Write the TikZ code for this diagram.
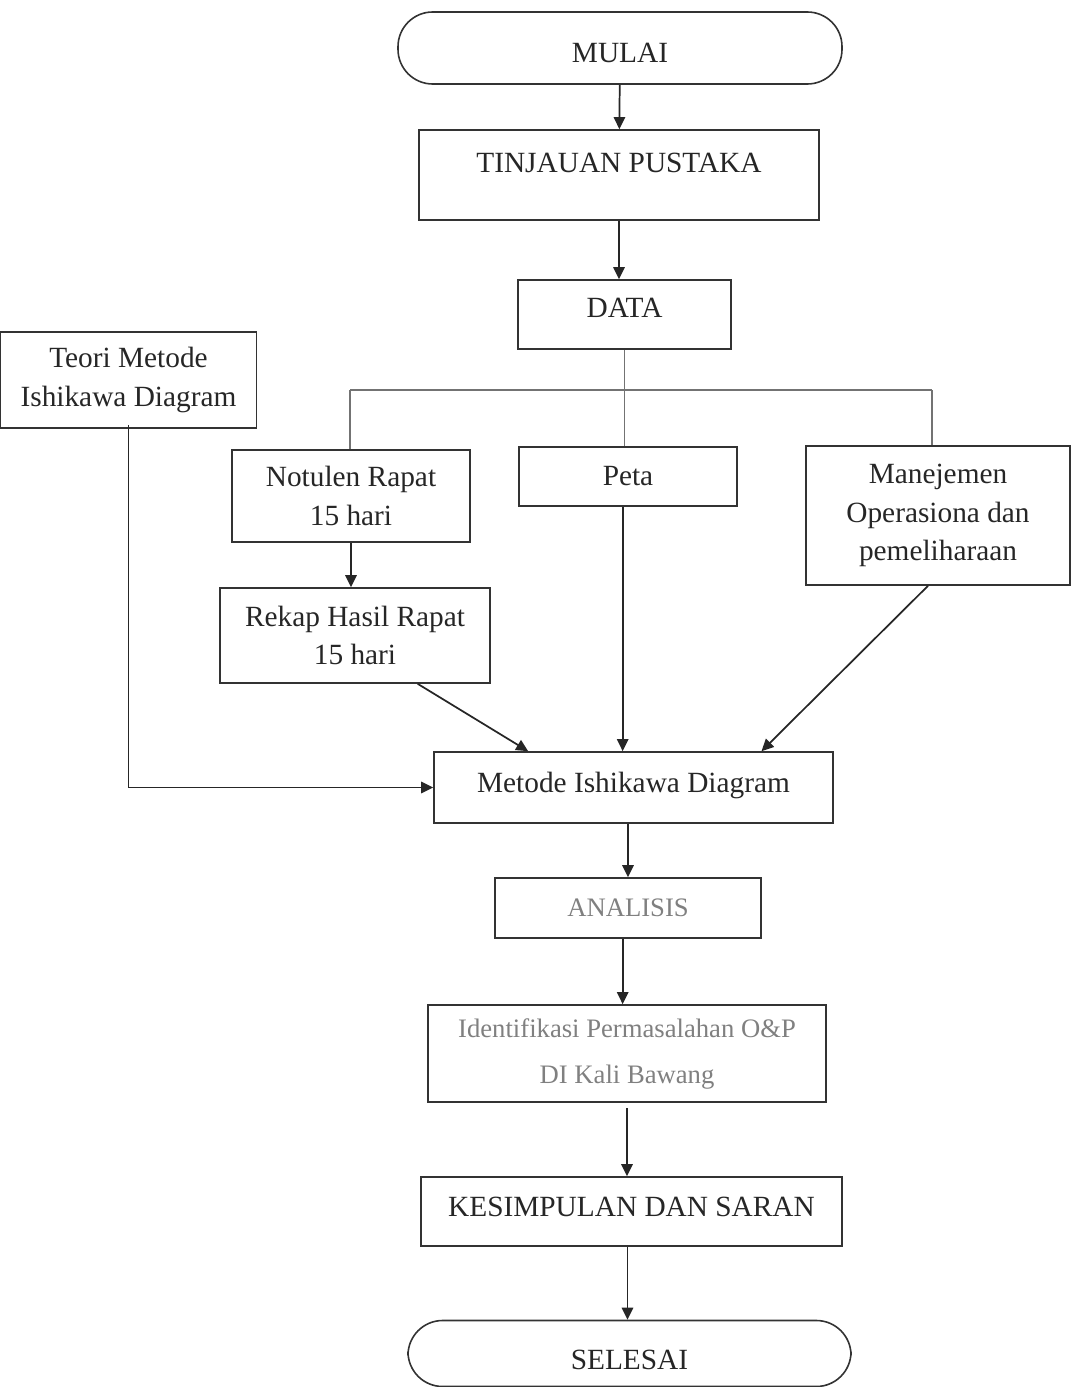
\documentclass[tikz,border=0pt]{standalone}
\usepackage{fontspec}
\setmainfont{Liberation Serif}
\usetikzlibrary{arrows.meta}

\begin{document}
\begin{tikzpicture}[x=0.75pt,y=0.75pt,yscale=-1,xscale=1,
  box/.style={draw=black!80,line width=1.2pt,rectangle,inner sep=0.75pt,align=center,text=black!85,font=\fontsize{22}{29}\selectfont},
  term/.style={box,rounded corners=26pt},
  faded/.style={text=black!50,font=\fontsize{20}{34.5}\selectfont},
  capline/.style={text height=14.6pt,text depth=#1},
  conn/.style={draw=black!85,line width=1.3pt},
  bus/.style={draw=black!55,line width=0.8pt},
  flow/.style={conn,-{Triangle[length=9pt,width=8.5pt]}}]
%uncomment if require: \path (0,1387); %set diagram left start at 0, and has height of 1387
\useasboundingbox (0,0) rectangle (1072,1387);

%Shape: Terminator [id:mulai]
\node [term,minimum width=333pt,minimum height=54pt,text height=21.4pt,text depth=0pt] (mulai) at (620,48) {MULAI};
%Shape: Rectangle [id:tinjauan]
\node [box,minimum width=300pt,minimum height=67.5pt,capline=18.8pt] (tinjauan) at (619,175) {TINJAUAN PUSTAKA};
%Shape: Rectangle [id:data]
\node [box,minimum width=160pt,minimum height=51.75pt,capline=10.5pt] (data) at (624.5,314.5) {DATA};
%Shape: Rectangle [id:teori]
\node [box,minimum width=192pt,minimum height=72pt] (teori) at (128.5,380) {Teori Metode\\Ishikawa Diagram};
%Shape: Rectangle [id:notulen]
\node [box,minimum width=178.5pt,minimum height=69pt] (notulen) at (351,496) {Notulen Rapat\\15 hari};
%Shape: Rectangle [id:rekap]
\node [box,minimum width=202.5pt,minimum height=71.25pt] (rekap) at (355,635.5) {Rekap Hasil Rapat\\15 hari};
%Shape: Rectangle [id:peta]
\node [box,minimum width=163.5pt,minimum height=44.25pt] (peta) at (628,476.5) {Peta};
%Shape: Rectangle [id:manajemen]
\node [box,minimum width=198pt,minimum height=104.25pt] (manajemen) at (938,515.5) {Manejemen\\Operasiona dan\\pemeliharaan};
%Shape: Rectangle [id:metode]
\node [box,minimum width=299.25pt,minimum height=53.25pt,capline=7.5pt] (metode) at (633.5,787.5) {Metode Ishikawa Diagram};
%Shape: Rectangle [id:analisis]
\node [box,faded,minimum width=199.5pt,minimum height=45pt] (analisis) at (628,908) {ANALISIS};
%Shape: Rectangle [id:identifikasi]
\node [box,faded,minimum width=298.5pt,minimum height=72.75pt] (identifikasi) at (627,1053.5) {Identifikasi Permasalahan O\&P\\DI Kali Bawang};
%Shape: Rectangle [id:kesimpulan]
\node [box,minimum width=315.75pt,minimum height=51.75pt,capline=7.5pt] (kesimpulan) at (631.5,1211.5) {KESIMPULAN DAN SARAN};
%Shape: Terminator [id:selesai]
\node [term,minimum width=332.25pt,minimum height=49.5pt,text height=24.4pt,text depth=0pt] (selesai) at (629.5,1353.5) {SELESAI};

%Straight Lines [id:bus]
\coordinate (busL) at (350,390);
\coordinate (busR) at (932,390);
\draw [bus] (data.south) -- (data.south |- peta.north);
\draw [bus] (busL) -- (busR);
\draw [bus] (busL) -- (busL |- notulen.north);
\draw [bus] (busR) -- (busR |- manajemen.north);

%Straight Lines [id:arrows]
\draw [flow] (mulai) -- (tinjauan);
\draw [flow] (tinjauan.south) -- (tinjauan.south |- data.north);
\draw [flow] (notulen.south) -- (notulen.south |- rekap.north);
\draw [flow] ([yshift=-3pt]teori.south) |- (metode.west);
\draw [flow] ([xshift=47pt]rekap.south) -- ([xshift=-79pt]metode.north);
\draw [flow] ([xshift=-4pt]peta.south) -- ([xshift=-4pt]peta.south |- metode.north);
\draw [flow] ([xshift=-7.5pt]manajemen.south) -- ([xshift=96pt]metode.north);
\draw [flow] (analisis.north |- metode.south) -- (analisis.north);
\draw [flow] ([xshift=-4pt]analisis.south) -- ([xshift=-4pt]analisis.south |- identifikasi.north);
\draw [flow] ([yshift=4pt]identifikasi.south) -- (identifikasi.south |- kesimpulan.north);
\draw [flow] ([xshift=-3pt]kesimpulan.south) -- ([xshift=-3pt]kesimpulan.south |- selesai.north);
\end{tikzpicture}
\end{document}
